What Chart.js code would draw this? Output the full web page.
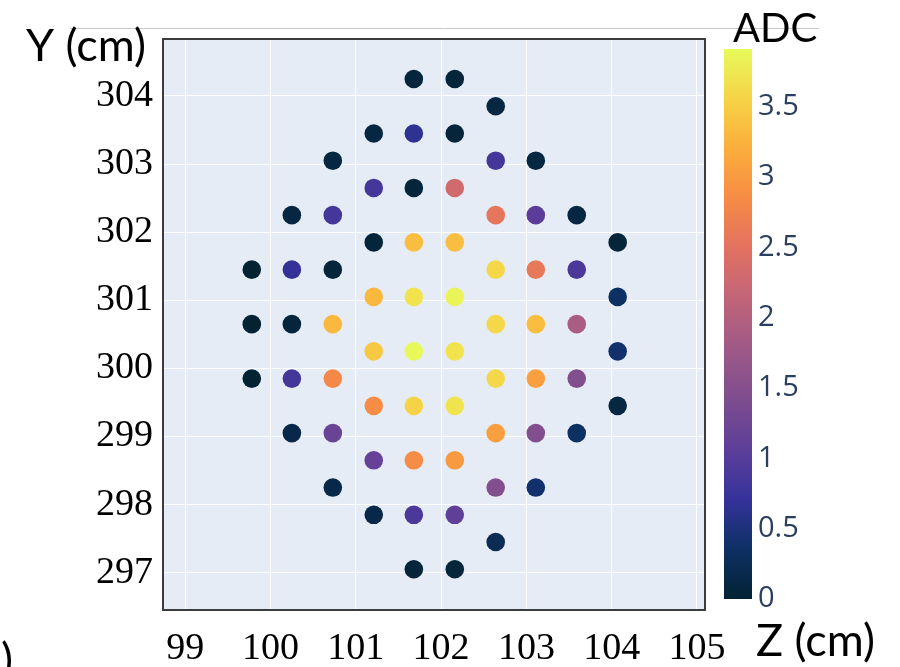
<!DOCTYPE html>
<html>
<head>
<meta charset="utf-8">
<script src="https://cdn.jsdelivr.net/npm/chart.js@4"></script>
<style>
  html, body { margin: 0; padding: 0; background: #ffffff; }
  #wrap { position: relative; width: 900px; height: 667px; }
</style>
</head>
<body>
<div id="wrap"><canvas id="adcChart" width="900" height="667"></canvas></div>
<script>
// pad positions (cm) and ADC reading of each hit
const zCm = [
  101.68, 102.16,
  102.64,
  101.21, 101.68, 102.16,
  100.73, 102.64, 103.11,
  101.21, 101.68, 102.16,
  100.25, 100.73, 102.64, 103.11, 103.59,
  101.21, 101.68, 102.16, 104.07,
  99.78, 100.25, 100.73, 102.64, 103.11, 103.59,
  101.21, 101.68, 102.16, 104.07,
  99.78, 100.25, 100.73, 102.64, 103.11, 103.59,
  101.21, 101.68, 102.16, 104.07,
  99.78, 100.25, 100.73, 102.64, 103.11, 103.59,
  101.21, 101.68, 102.16, 104.07,
  100.25, 100.73, 102.64, 103.11, 103.59,
  101.21, 101.68, 102.16,
  100.73, 102.64, 103.11,
  101.21, 101.68, 102.16,
  102.64,
  101.68, 102.16,
];
const yCm = [
  304.25, 304.25,
  303.85,
  303.45, 303.45, 303.45,
  303.05, 303.05, 303.05,
  302.65, 302.65, 302.65,
  302.25, 302.25, 302.25, 302.25, 302.25,
  301.85, 301.85, 301.85, 301.85,
  301.45, 301.45, 301.45, 301.45, 301.45, 301.45,
  301.05, 301.05, 301.05, 301.05,
  300.65, 300.65, 300.65, 300.65, 300.65, 300.65,
  300.25, 300.25, 300.25, 300.25,
  299.85, 299.85, 299.85, 299.85, 299.85, 299.85,
  299.45, 299.45, 299.45, 299.45,
  299.05, 299.05, 299.05, 299.05, 299.05,
  298.65, 298.65, 298.65,
  298.25, 298.25, 298.25,
  297.85, 297.85, 297.85,
  297.45,
  297.05, 297.05,
];
const adc = [
  0.05, 0.05,
  0.1,
  0.1, 0.65, 0.05,
  0.1, 0.85, 0.1,
  0.85, 0.05, 2.3,
  0.1, 0.85, 2.55, 1.05, 0.1,
  0.05, 3.35, 3.35, 0.05,
  0.0, 0.7, 0.05, 3.6, 2.6, 0.9,
  3.3, 3.7, 3.85, 0.35,
  0.0, 0.05, 3.3, 3.6, 3.35, 1.9,
  3.45, 3.9, 3.7, 0.4,
  0.0, 0.85, 2.8, 3.6, 3.05, 1.45,
  2.85, 3.55, 3.7, 0.1,
  0.15, 1.2, 3.05, 1.45, 0.35,
  1.15, 2.85, 3.0,
  0.15, 1.45, 0.4,
  0.15, 0.9, 1.1,
  0.25,
  0.05, 0.05,
];

const zTicks = [99, 100, 101, 102, 103, 104, 105];
const yTicks = [297, 298, 299, 300, 301, 302, 303, 304];
const adcTicks = [0, 0.5, 1, 1.5, 2, 2.5, 3, 3.5];
const adcMin = 0;
const adcMax = 3.91;

// cmocean "thermal"
const thermal = [
  [3, 35, 51], [13, 48, 100], [53, 50, 155], [93, 62, 153],
  [126, 77, 143], [158, 89, 135], [193, 100, 121], [225, 113, 97],
  [246, 139, 69], [251, 173, 60], [246, 211, 70], [231, 250, 90],
];

function thermalColor(v) {
  let t = (v - adcMin) / (adcMax - adcMin);
  t = Math.max(0, Math.min(1, t));
  const pos = t * (thermal.length - 1);
  const i = Math.min(Math.floor(pos), thermal.length - 2);
  const f = pos - i;
  const a = thermal[i], b = thermal[i + 1];
  const c = a.map((x, k) => Math.round(x + (b[k] - x) * f));
  return `rgb(${c[0]}, ${c[1]}, ${c[2]})`;
}

const points = zCm.map((z, i) => ({ x: z, y: yCm[i] }));
const pointColors = adc.map(thermalColor);

// frame around the plot, colour bar and the loose titles
const decorations = {
  id: "decorations",
  beforeDraw(chart) {
    const { ctx, chartArea } = chart;
    ctx.save();
    ctx.fillStyle = "#e5ecf6";
    ctx.fillRect(chartArea.left, chartArea.top, chartArea.right - chartArea.left, chartArea.bottom - chartArea.top);
    ctx.restore();
  },
  afterDraw(chart) {
    const { ctx, chartArea } = chart;
    ctx.save();

    ctx.strokeStyle = "#3c3c3c";
    ctx.lineWidth = 2;
    ctx.strokeRect(chartArea.left, chartArea.top, chartArea.right - chartArea.left, chartArea.bottom - chartArea.top);

    ctx.strokeStyle = "#cdc6cf";
    ctx.lineWidth = 1;
    ctx.beginPath();
    ctx.moveTo(70, 28.5);
    ctx.lineTo(819, 28.5);
    ctx.stroke();

    // colour bar
    const barLeft = 724, barWidth = 28, barTop = 49, barBottom = 599;
    const grad = ctx.createLinearGradient(0, barBottom, 0, barTop);
    thermal.forEach((c, i) => {
      grad.addColorStop(i / (thermal.length - 1), `rgb(${c[0]}, ${c[1]}, ${c[2]})`);
    });
    ctx.fillStyle = grad;
    ctx.fillRect(barLeft, barTop, barWidth, barBottom - barTop);

    const toPx = (v) => barBottom - (v - adcMin) / (adcMax - adcMin) * (barBottom - barTop);
    ctx.fillStyle = "#2a3f5f";
    ctx.font = "29px 'Open Sans'";
    ctx.textAlign = "left";
    ctx.textBaseline = "middle";
    adcTicks.forEach((v) => ctx.fillText(String(v), barLeft + barWidth + 6, toPx(v)));

    ctx.fillStyle = "#000000";
    ctx.textBaseline = "alphabetic";
    ctx.font = "45px Lato";
    ctx.fillText("Y (cm)", 26, 61);
    ctx.fillText("Z (cm)", 756, 656);
    ctx.fillText(")", 1, 675);
    ctx.font = "40px Lato";
    ctx.fillText("ADC", 733, 42);

    ctx.restore();
  },
};

new Chart(document.getElementById("adcChart"), {
  type: "scatter",
  data: {
    datasets: [
      {
        label: "ADC",
        data: points,
        backgroundColor: pointColors,
        borderWidth: 0,
        pointRadius: 9.3,
        pointHoverRadius: 9.3,
      },
    ],
  },
  options: {
    responsive: false,
    animation: false,
    layout: {
      padding: { top: 39, right: 195, left: 0, bottom: 0 },
    },
    scales: {
      x: {
        type: "linear",
        min: 98.739,
        max: 105.094,
        afterBuildTicks: (scale) => {
          scale.ticks = zTicks.map((v) => ({ value: v }));
        },
        afterFit: (scale) => {
          scale.height = 57;
        },
        grid: { color: "#ffffff", lineWidth: 1, drawTicks: false },
        border: { display: false },
        ticks: {
          color: "#000000",
          padding: 16,
          font: { family: "'Liberation Serif'", size: 38 },
        },
      },
      y: {
        type: "linear",
        min: 296.452,
        max: 304.837,
        afterBuildTicks: (scale) => {
          scale.ticks = yTicks.map((v) => ({ value: v }));
        },
        afterFit: (scale) => {
          scale.width = 163;
        },
        grid: { color: "#ffffff", lineWidth: 1, drawTicks: false },
        border: { display: false },
        ticks: {
          color: "#000000",
          padding: 10,
          font: { family: "'Liberation Serif'", size: 38 },
        },
      },
    },
    plugins: {
      legend: { display: false },
      tooltip: { enabled: false },
    },
  },
  plugins: [decorations],
});
</script>
</body>
</html>
